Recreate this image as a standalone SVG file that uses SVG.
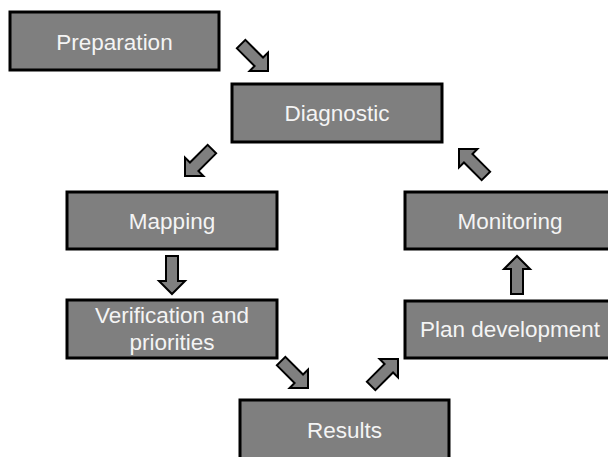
<svg xmlns="http://www.w3.org/2000/svg" width="608" height="457" viewBox="0 0 608 457">
<defs>
<style>
.box{fill:#7f7f7f;stroke:#000;stroke-width:3}
.lbl{fill:#f4f4f4;font-family:"Liberation Sans",Arial,sans-serif;font-size:22.5px;text-anchor:middle}
.arr{fill:#7f7f7f;stroke:#000;stroke-width:2;stroke-linejoin:miter}
</style>
<polygon id="ar" points="0,0 -13,-13 -13,-6 -38,-6 -38,6 -13,6 -13,13"/>
</defs>
<rect width="608" height="457" fill="#fff"/>
<g id="preparation"><rect class="box" x="10" y="12" width="209" height="58"/><text class="lbl" x="114.5" y="50">Preparation</text></g>
<g id="diagnostic"><rect class="box" x="232" y="84" width="210" height="58"/><text class="lbl" x="337" y="121">Diagnostic</text></g>
<g id="mapping"><rect class="box" x="67" y="192" width="210" height="57"/><text class="lbl" x="172" y="229">Mapping</text></g>
<g id="monitoring"><rect class="box" x="405" y="192" width="210" height="57"/><text class="lbl" x="510" y="229">Monitoring</text></g>
<g id="verification"><rect class="box" x="67" y="300" width="210" height="58"/><text class="lbl" x="172" y="323">Verification and</text><text class="lbl" x="172" y="350">priorities</text></g>
<g id="plan"><rect class="box" x="405" y="301" width="210" height="57"/><text class="lbl" x="510" y="337">Plan development</text></g>
<g id="results"><rect class="box" x="240" y="400" width="209" height="60"/><text class="lbl" x="344.5" y="438">Results</text></g>
<g id="connectors">
<use href="#ar" class="arr" transform="translate(268,71) rotate(45)"/>
<use href="#ar" class="arr" transform="translate(185,176) rotate(135)"/>
<use href="#ar" class="arr" transform="translate(172,294) rotate(90)"/>
<use href="#ar" class="arr" transform="translate(308,388) rotate(45)"/>
<use href="#ar" class="arr" transform="translate(398,359) rotate(-45)"/>
<use href="#ar" class="arr" transform="translate(517,256) rotate(-90)"/>
<use href="#ar" class="arr" transform="translate(459,149) rotate(-135)"/>
</g>
</svg>
